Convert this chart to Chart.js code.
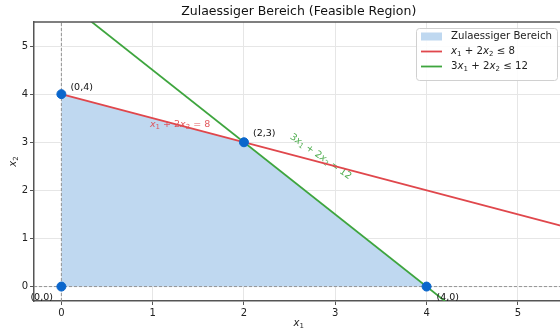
<!DOCTYPE html>
<html>
<head>
<meta charset="utf-8">
<script src="https://cdn.jsdelivr.net/npm/chart.js@4"></script>
<style>
  html, body { margin: 0; padding: 0; overflow: hidden; background: #fff; }
  #chart { display: block; }
</style>
</head>
<body>
<canvas id="chart" width="569" height="330"></canvas>
<script>
// ===== Data =====
const vertexX = [0, 0, 2, 4];
const vertexY = [0, 4, 3, 0];
const vertexLabels = ['(0,0)', '(0,4)', '(2,3)', '(4,0)'];
const lineX = [0, 5.5];
const redY = [4, 1.25];
const greenY = [6, -2.25];
const tickValues = [0, 1, 2, 3, 4, 5];
const axisMin = -0.3, axisMax = 5.5;
const legendLabels = ['Zulaessiger Bereich', 'x₁ + 2x₂ ≤ 8', '3x₁ + 2x₂ ≤ 12'];
const lineLabels = ['x₁ + 2x₂ = 8', '3x₁ + 2x₂ = 12'];
const titleText = 'Zulaessiger Bereich (Feasible Region)';

// ===== Colours =====
const RED = '#e0474c';
const GREEN = '#3ea53e';
const FILL = '#bfd8f0';
const DOT = '#0a66cc';
const FONT = '"DejaVu Sans", sans-serif';

const pts = (xs, ys) => xs.map((x, i) => ({ x, y: ys[i] }));

// draws x1-style text: italic x, small lowered digits for subscripts
function mathText(ctx, str, x, y, size, color, align) {
  const segs = [];
  for (const ch of str) {
    if (ch === 'x') segs.push({ t: 'x', f: `italic ${size}px ${FONT}`, dy: 0 });
    else if (ch === '₁' || ch === '₂') segs.push({ t: ch === '₁' ? '1' : '2', f: `${Math.round(size * 0.7)}px ${FONT}`, dy: size * 0.28 });
    else segs.push({ t: ch, f: `${size}px ${FONT}`, dy: 0 });
  }
  let w = 0;
  segs.forEach(s => { ctx.font = s.f; s.w = ctx.measureText(s.t).width; w += s.w; });
  let cx = align === 'center' ? x - w / 2 : align === 'right' ? x - w : x;
  ctx.fillStyle = color;
  ctx.textAlign = 'left';
  ctx.textBaseline = 'middle';
  segs.forEach(s => { ctx.font = s.f; ctx.fillText(s.t, cx, y + s.dy); cx += s.w; });
}

// ===== Extra drawing =====
const extras = {
  id: 'extras',
  afterDatasetDraw(chart, args) {
    if (args.index !== 4) return; // right after the region fill
    const { ctx, scales: { x, y } } = chart;
    ctx.save();
    ctx.globalAlpha = 0.9;
    mathText(ctx, lineLabels[0], x.getPixelForValue(1.3), y.getPixelForValue(3.36), 9.5, RED, 'center');
    ctx.translate(x.getPixelForValue(2.84), y.getPixelForValue(2.7));
    ctx.rotate(35 * Math.PI / 180);
    mathText(ctx, lineLabels[1], 0, 0, 9.5, GREEN, 'center');
    ctx.restore();
  },
  afterDraw(chart) {
    const { ctx, chartArea: a, scales: { x, y } } = chart;
    ctx.save();
    // top spine
    ctx.strokeStyle = '#555';
    ctx.lineWidth = 1.5;
    ctx.beginPath();
    ctx.moveTo(a.left, a.top);
    ctx.lineTo(a.right, a.top);
    ctx.stroke();

    // title
    ctx.fillStyle = '#111';
    ctx.font = `12.5px ${FONT}`;
    ctx.textAlign = 'center';
    ctx.textBaseline = 'middle';
    ctx.fillText(titleText, (a.left + a.right) / 2, 12);

    // axis titles
    mathText(ctx, 'x₁', (a.left + a.right) / 2, 323.5, 10, '#222', 'center');
    ctx.save();
    ctx.translate(13, (a.top + a.bottom) / 2);
    ctx.rotate(-Math.PI / 2);
    mathText(ctx, 'x₂', 0, 0, 10, '#222', 'center');
    ctx.restore();

    // vertex labels
    const offs = [[-31, 11], [9, -7], [9, -9], [10, 11]];
    ctx.font = `9.5px ${FONT}`;
    ctx.fillStyle = '#111';
    ctx.textAlign = 'left';
    ctx.textBaseline = 'middle';
    vertexLabels.forEach((t, i) => {
      ctx.fillText(t, x.getPixelForValue(vertexX[i]) + offs[i][0], y.getPixelForValue(vertexY[i]) + offs[i][1]);
    });

    // legend
    const lx = 416, ly = 28, lw = 141, lh = 52;
    ctx.fillStyle = 'rgba(255,255,255,0.85)';
    ctx.strokeStyle = '#d0d0d0';
    ctx.lineWidth = 1;
    ctx.beginPath();
    ctx.roundRect(lx + 0.5, ly + 0.5, lw, lh, 3);
    ctx.fill();
    ctx.stroke();
    const rows = [36.5, 51.5, 66.5];
    ctx.fillStyle = FILL;
    ctx.fillRect(421, rows[0] - 4, 21, 8);
    ctx.lineWidth = 1.8;
    ctx.strokeStyle = RED;
    ctx.beginPath(); ctx.moveTo(421, rows[1]); ctx.lineTo(442, rows[1]); ctx.stroke();
    ctx.strokeStyle = GREEN;
    ctx.beginPath(); ctx.moveTo(421, rows[2]); ctx.lineTo(442, rows[2]); ctx.stroke();
    legendLabels.forEach((t, i) => mathText(ctx, t, 451, rows[i], 10.2, '#222', 'left'));
    ctx.restore();
  }
};

// ===== Chart =====
const axis = (fixSize) => ({
  type: 'linear',
  min: axisMin,
  max: axisMax,
  afterBuildTicks: s => { s.ticks = tickValues.map(v => ({ value: v })); },
  afterFit: fixSize,
  grid: { color: '#e6e6e6', lineWidth: 1, tickColor: '#555', tickLength: 4 },
  border: { color: '#555', width: 1.5 },
  ticks: { color: '#222', font: { family: FONT, size: 10 }, padding: 2 }
});

new Chart(document.getElementById('chart'), {
  type: 'scatter',
  data: {
    datasets: [
      { label: 'vertices', data: pts(vertexX, vertexY), order: 0, pointRadius: 4.5,
        pointBackgroundColor: DOT, pointBorderColor: DOT, showLine: false },
      { label: legendLabels[2], data: pts(lineX, greenY), order: 1, showLine: true,
        borderColor: GREEN, borderWidth: 1.8, pointRadius: 0 },
      { label: legendLabels[1], data: pts(lineX, redY), order: 2, showLine: true,
        borderColor: RED, borderWidth: 1.8, pointRadius: 0 },
      { label: 'guides', data: [{ x: 0, y: axisMin }, { x: 0, y: axisMax }, { x: NaN, y: NaN },
                                 { x: axisMin, y: 0 }, { x: axisMax, y: 0 }],
        order: 3, showLine: true, spanGaps: false, borderColor: '#8a8a8a', borderWidth: 0.9,
        borderDash: [3, 2], pointRadius: 0 },
      { label: legendLabels[0], data: pts(vertexX, vertexY), order: 4, showLine: true,
        borderWidth: 0, borderColor: 'rgba(0,0,0,0)', backgroundColor: FILL, fill: 'origin', pointRadius: 0 }
    ]
  },
  options: {
    responsive: false,
    devicePixelRatio: 1,
    animation: false,
    layout: { padding: { top: 22, right: 3, left: 0, bottom: 0 } },
    plugins: { legend: { display: false }, title: { display: false }, tooltip: { enabled: false } },
    scales: {
      x: axis(s => { s.height = 29; }),
      y: axis(s => { s.width = 34; })
    }
  },
  plugins: [extras]
});
</script>
</body>
</html>
